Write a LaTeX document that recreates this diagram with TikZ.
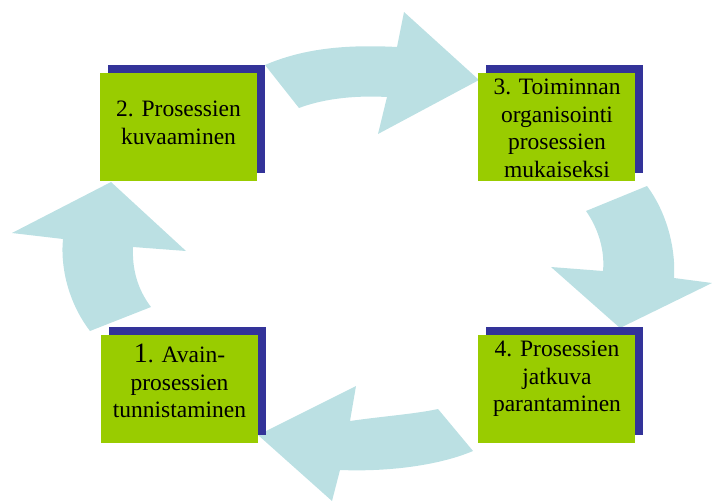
\documentclass[tikz,border=0pt]{standalone}
\usepackage{fontspec}
\setmainfont{Liberation Serif}
\usetikzlibrary{shadows}
\definecolor{arrowblue}{HTML}{BBE0E3}
\definecolor{stepgreen}{HTML}{99CC00}
\definecolor{stepnavy}{HTML}{333399}
\begin{document}
\begin{tikzpicture}[x=1pt,y=-1pt,
  stepbox/.style={rectangle, fill=stepgreen, minimum width=157pt, minimum height=108pt,
    inner sep=0pt, anchor=north west,
    general shadow={fill=stepnavy, shadow xshift=8pt, shadow yshift=8pt}},
  steptext/.style={anchor=north, inner sep=0pt, align=center,
    font=\fontsize{23.5}{27.6}\selectfont},
  cyclearrow/.style={fill=arrowblue, draw=none}]
\useasboundingbox (0,0) rectangle (712,503);

% curved block arrows of the cycle
\fill[cyclearrow] (265,65) .. controls (300,50) and (340,44) .. (397,47)
  -- (404,12) -- (479,80) -- (378,134) -- (387,97)
  .. controls (350,95) and (320,100) .. (299,108) -- cycle;
\fill[cyclearrow] (586,211) -- (647,186) .. controls (665,210) and (676,245) .. (674,278)
  -- (712,283) -- (620,328) -- (551,267) -- (603,271)
  .. controls (605,250) and (598,228) .. (586,211) -- cycle;
\fill[cyclearrow] (473,451) .. controls (440,465) and (390,472) .. (340,470)
  -- (332,501) -- (258,435) -- (356,386) -- (350,421)
  .. controls (385,416) and (415,414) .. (438,409) -- cycle;
\fill[cyclearrow] (90,331) .. controls (70,305) and (60,270) .. (63,239)
  -- (12,233) -- (111,182) -- (186,251) -- (133,247)
  .. controls (132,270) and (138,290) .. (151,307) -- cycle;

% step boxes
\node[stepbox] (b2) at (100,73) {};
\node[stepbox] (b3) at (478,73) {};
\node[stepbox] (b1) at (101,335) {};
\node[stepbox] (b4) at (478,335) {};

% step texts
\node[steptext] (t2) at (178.5,101) {2. Prosessien\\kuvaaminen};
\node[steptext] (t3) at (557,79) {3. Toiminnan\\organisointi\\prosessien\\mukaiseksi};
\node[steptext] (t1) at (179.5,344) {{\fontsize{28}{28}\selectfont 1}. Avain-\\prosessien\\tunnistaminen};
\node[steptext] (t4) at (557,341) {4. Prosessien\\jatkuva\\parantaminen};
\end{tikzpicture}
\end{document}
